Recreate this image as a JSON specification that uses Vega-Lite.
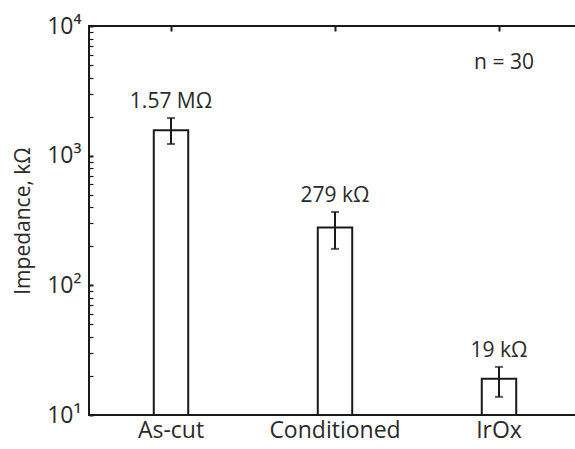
{
  "$schema": "https://vega.github.io/schema/vega-lite/v6.json",
  "autosize": {"type": "none"},
  "width": 492,
  "height": 389,
  "padding": {"left": 89, "top": 26, "right": 0, "bottom": 34},
  "background": "white",
  "config": {
    "font": "Open Sans",
    "view": {"stroke": "#1a1a1a", "strokeWidth": 2},
    "axis": {"labelFont": "Open Sans", "titleFont": "Open Sans", "labelColor": "#2a2a2a", "titleColor": "#2a2a2a", "grid": false, "domainColor": "#1a1a1a", "domainWidth": 2, "tickColor": "#1a1a1a", "zindex": 1}
  },
  "data": {"values": [
    {"cat": "As-cut", "val": 1570, "lo": 1230, "hi": 1950, "label": "1.57 MΩ"},
    {"cat": "Conditioned", "val": 279, "lo": 191, "hi": 368, "label": "279 kΩ"},
    {"cat": "IrOx", "val": 19, "lo": 13.8, "hi": 23.5, "label": "19 kΩ"}
  ]},
  "resolve": {"axis": {"x": "independent"}},
  "layer": [
    {
      "mark": {"type": "bar", "fill": "white", "stroke": "#1a1a1a", "strokeWidth": 2},
      "encoding": {
        "x": {"field": "cat", "type": "nominal", "sort": null,
              "scale": {"paddingInner": 0.79, "paddingOuter": 0.395},
              "axis": {"title": null, "labelAngle": 0, "labelFontSize": 23, "ticks": false, "labelPadding": 4, "domain": false}},
        "y": {"field": "val", "type": "quantitative", "title": "Impedance, kΩ",
              "scale": {"type": "log", "domain": [10, 10000], "nice": false},
              "axis": {"titleFontSize": 21, "titleFontWeight": "normal", "titlePadding": 13,
                       "labelFontSize": 23, "labelPadding": 8, "offset": -4,
                       "values": [10,20,30,40,50,60,70,80,90,100,200,300,400,500,600,700,800,900,1000,2000,3000,4000,5000,6000,7000,8000,9000,10000],
                       "labelExpr": "datum.value == 10 ? '10¹' : datum.value == 100 ? '10²' : datum.value == 1000 ? '10³' : datum.value == 10000 ? '10⁴' : ''",
                       "tickSize": 4,
                       "tickWidth": {"condition": {"test": "datum.value == 10 || datum.value == 100 || datum.value == 1000 || datum.value == 10000", "value": 2}, "value": 1.2},
                       "domain": false}},
        "y2": {"datum": 10}
      }
    },
    {
      "mark": {"type": "rule", "color": "#1a1a1a", "strokeWidth": 2},
      "encoding": {
        "x": {"field": "cat", "type": "nominal", "sort": null, "axis": {"orient": "top", "title": null, "labels": false, "domain": false, "offset": -5, "tickSize": 5, "tickWidth": 2}},
        "y": {"field": "lo", "type": "quantitative", "title": "Impedance, kΩ"},
        "y2": {"field": "hi"}
      }
    },
    {
      "mark": {"type": "tick", "orient": "horizontal", "size": 8, "thickness": 2, "color": "#1a1a1a"},
      "encoding": {
        "x": {"field": "cat", "type": "nominal", "sort": null, "axis": null},
        "y": {"field": "lo", "type": "quantitative", "title": "Impedance, kΩ"}
      }
    },
    {
      "mark": {"type": "tick", "orient": "horizontal", "size": 8, "thickness": 2, "color": "#1a1a1a"},
      "encoding": {
        "x": {"field": "cat", "type": "nominal", "sort": null, "axis": null},
        "y": {"field": "hi", "type": "quantitative", "title": "Impedance, kΩ"}
      }
    },
    {
      "mark": {"type": "text", "baseline": "bottom", "dy": -6, "fontSize": 21, "color": "#2a2a2a"},
      "encoding": {
        "x": {"field": "cat", "type": "nominal", "sort": null, "axis": null},
        "y": {"field": "hi", "type": "quantitative", "title": "Impedance, kΩ"},
        "text": {"field": "label"}
      }
    },
    {
      "data": {"values": [{"cat": "IrOx", "val": 5200, "label": "n = 30"}]},
      "mark": {"type": "text", "baseline": "middle", "dx": 5, "fontSize": 21, "color": "#2a2a2a"},
      "encoding": {
        "x": {"field": "cat", "type": "nominal", "axis": null},
        "y": {"field": "val", "type": "quantitative", "title": "Impedance, kΩ"},
        "text": {"field": "label"}
      }
    }
  ]
}
